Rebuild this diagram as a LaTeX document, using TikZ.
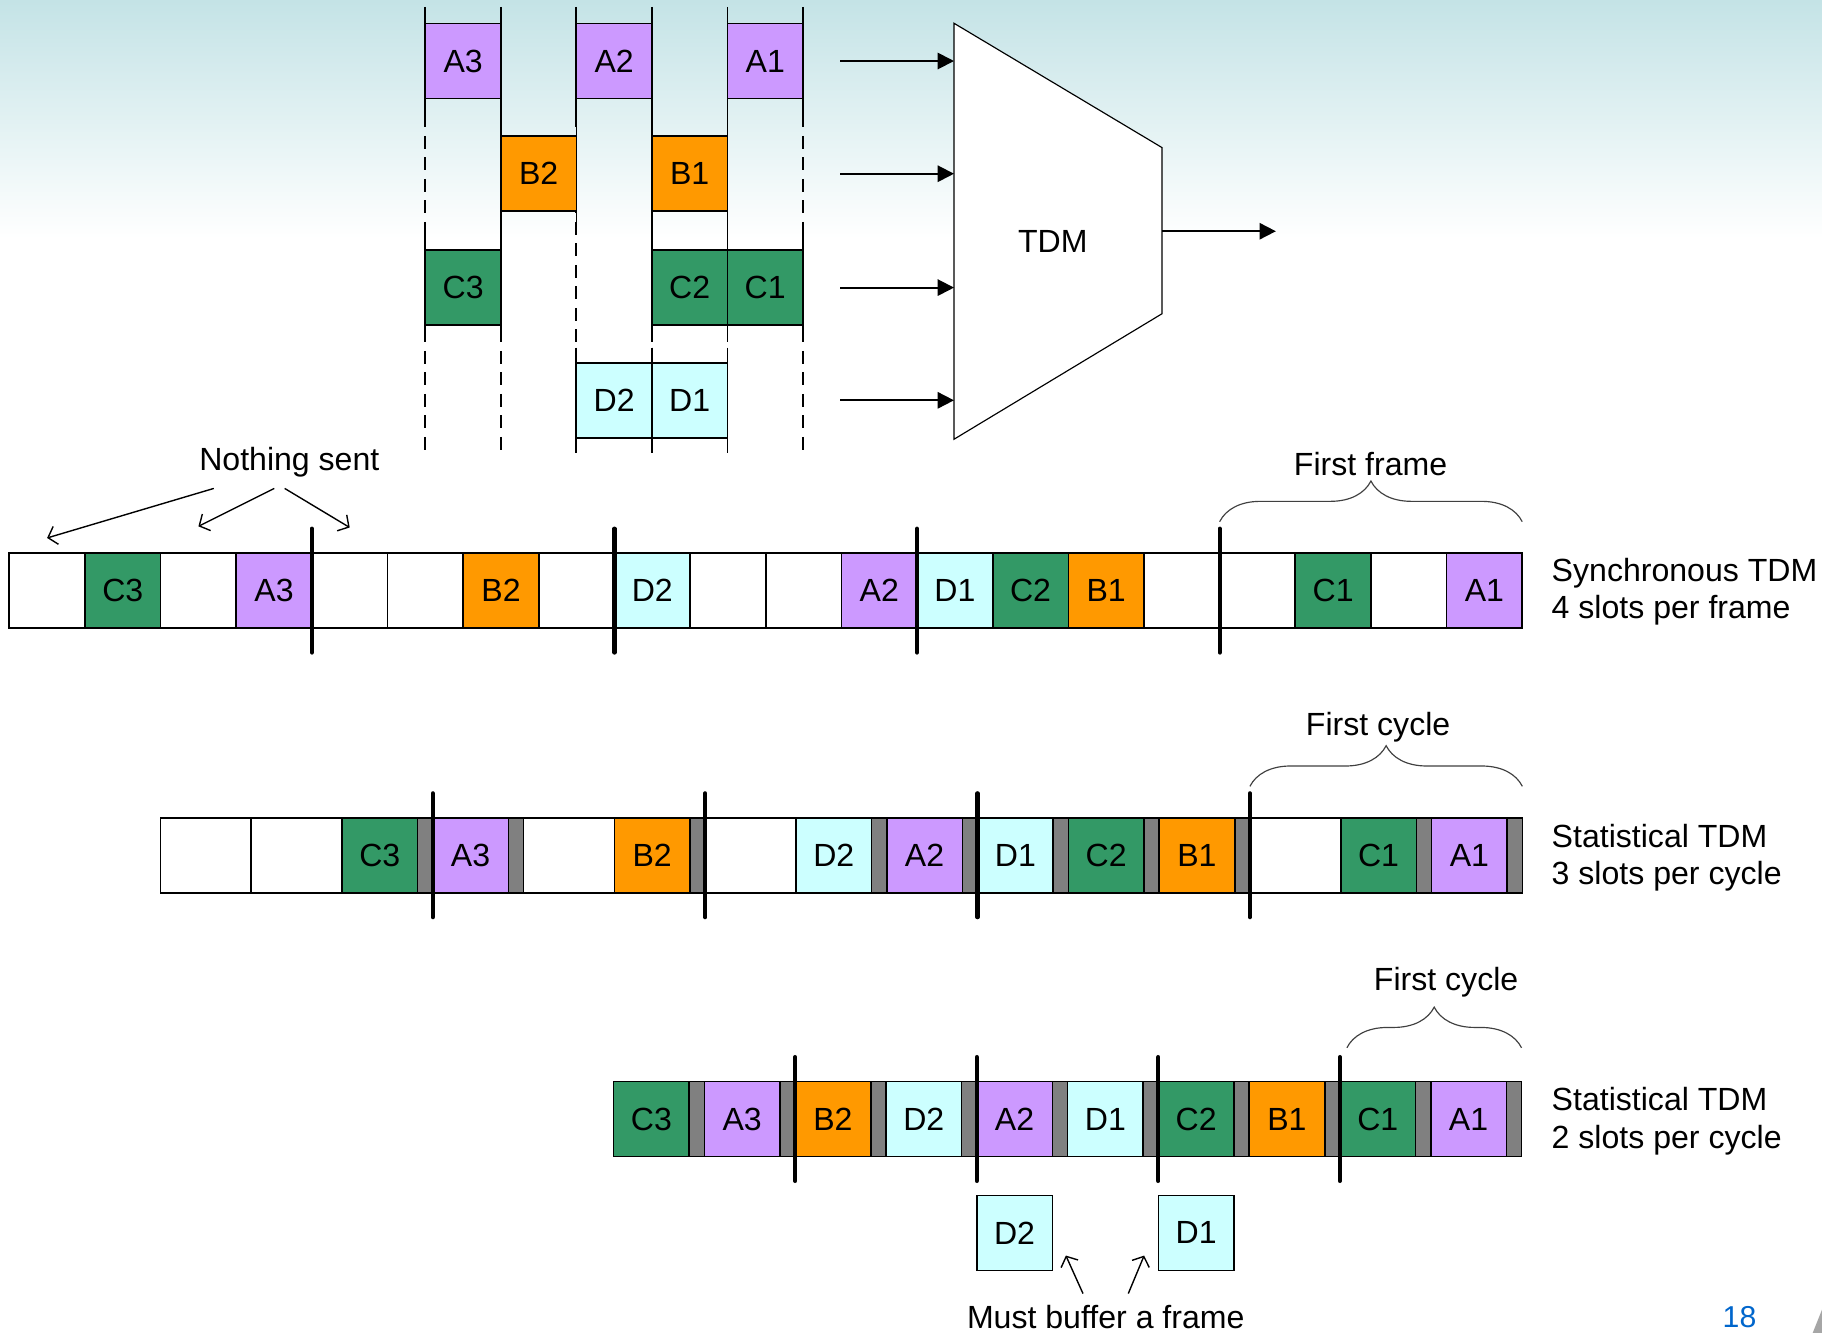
\documentclass[tikz,border=0pt]{standalone}
\usepackage{fontspec}
\setmainfont{Liberation Sans}
\usepackage{tikz}
\usepackage{xcolor}
\usetikzlibrary{arrows.meta,decorations.pathreplacing}

\definecolor{packetA}{HTML}{CC99FF}
\definecolor{packetB}{HTML}{FF9900}
\definecolor{packetC}{HTML}{339966}
\definecolor{packetD}{HTML}{CCFFFF}
\definecolor{headerGrey}{HTML}{808080}
\definecolor{slideTop}{HTML}{C4E3E6}
\definecolor{pageBlue}{HTML}{0066CC}

\tikzstyle{slot} =
  [ rectangle
  , draw
  , line width=0.7pt
  , minimum width=32.55pt
  , minimum height=32.3pt
  , inner sep=0pt
  , outer sep=0pt
  , anchor=west
  ]
\tikzstyle{packet_a} = [ slot , fill=packetA ]
\tikzstyle{packet_b} = [ slot , fill=packetB ]
\tikzstyle{packet_c} = [ slot , fill=packetC ]
\tikzstyle{packet_d} = [ slot , fill=packetD ]
\tikzstyle{idle} = [ slot , fill=white ]
\tikzstyle{idle_wide} =
  [ slot
  , fill=white
  , minimum width=39.07pt
  ]
\tikzstyle{header} =
  [ slot
  , fill=headerGrey
  , minimum width=6.52pt
  ]
\tikzstyle{mux} =
  [ draw
  , fill=white
  , line width=0.5pt
  ]
\tikzstyle{frame_mark} = [ line width=1.8pt , line cap=round ]
\tikzstyle{guide} = [ line width=0.75pt , dash pattern=on 5.5pt off 3.75pt ]
\tikzstyle{side} = [ line width=0.75pt ]
\tikzstyle{feed} = [ line width=0.8pt , -{Triangle[length=7pt,width=7pt]} ]
\tikzstyle{note_arrow} = [ line width=0.6pt , -{Straight Barb[length=3.5pt,width=8pt]} ]
\tikzstyle{curly} =
  [ draw=black!75
  , line width=0.5pt
  , decorate
  , decoration={brace,amplitude=17.5pt}
  ]
\tikzstyle{caption} = [ inner sep=1pt , anchor=base ]
\tikzstyle{row_label} = [ inner sep=0pt , anchor=base west ]

\def\packetsides#1{%
  \draw[side] ([yshift=6.5pt]#1.north west) -- ([yshift=-6.5pt]#1.south west)
              ([yshift=6.5pt]#1.north east) -- ([yshift=-6.5pt]#1.south east);}

\begin{document}
\begin{tikzpicture}[x=0.5pt,y=-0.5pt,font=\fontsize{13.8}{16}\selectfont]
    \useasboundingbox (0,0) rectangle (1568,1147);

    % slide background
    \fill[white] (0,0) rectangle (1568,1147);
    \shade[top color=slideTop, bottom color=white] (0,0) rectangle (1568,205);

    % Input streams
    \draw[guide] (366,6) -- (366,390) (431,6) -- (431,390) (496,6) -- (496,390)
                 (561,6) -- (561,390) (626,6) -- (626,390) (691,6) -- (691,390);

    \node[packet_a] (in_a3) at (366,52.5)  {A3};
    \node[packet_a] (in_a2) at (496,52.5)  {A2};
    \node[packet_a] (in_a1) at (626,52.5)  {A1};
    \node[packet_b] (in_b2) at (431,149.5) {B2};
    \node[packet_b] (in_b1) at (561,149.5) {B1};
    \node[packet_c] (in_c3) at (366,247.5) {C3};
    \node[packet_c] (in_c2) at (561,247.5) {C2};
    \node[packet_c] (in_c1) at (626,247.5) {C1};
    \node[packet_d] (in_d2) at (496,344.5) {D2};
    \node[packet_d] (in_d1) at (561,344.5) {D1};
    \packetsides{in_a3} \packetsides{in_a2} \packetsides{in_a1}
    \packetsides{in_b2} \packetsides{in_b1}
    \packetsides{in_c3} \packetsides{in_c2} \packetsides{in_c1}
    \packetsides{in_d2} \packetsides{in_d1}

    % Multiplexer
    \coordinate (mux_nw) at (821,20);
    \coordinate (mux_ne) at (1000,127);
    \coordinate (mux_se) at (1000,270);
    \coordinate (mux_sw) at (821,378);
    \draw[mux] (mux_nw) -- (mux_ne) -- (mux_se) -- (mux_sw) -- cycle;
    \node[caption] (tdm) at (906,217) {TDM};

    \coordinate (feed_a) at (723,52.5);
    \coordinate (feed_b) at (723,149.5);
    \coordinate (feed_c) at (723,247.5);
    \coordinate (feed_d) at (723,344.5);
    \coordinate (mux_out) at (1098,199);
    \draw[feed] (feed_a) -- (feed_a -| mux_nw);
    \draw[feed] (feed_b) -- (feed_b -| mux_nw);
    \draw[feed] (feed_c) -- (feed_c -| mux_nw);
    \draw[feed] (feed_d) -- (feed_d -| mux_nw);
    \draw[feed] (mux_out -| mux_ne) -- (mux_out);

    % Synchronous TDM, 4 slots per frame
    \node[idle]     (sync_e1)  at (8,508.25)     {};
    \node[packet_c] (sync_c3)  at (sync_e1.east)  {C3};
    \node[idle]     (sync_e2)  at (sync_c3.east)  {};
    \node[packet_a] (sync_a3)  at (sync_e2.east)  {A3};
    \node[idle]     (sync_e3)  at (sync_a3.east)  {};
    \node[idle]     (sync_e4)  at (sync_e3.east)  {};
    \node[packet_b] (sync_b2)  at (sync_e4.east)  {B2};
    \node[idle]     (sync_e5)  at (sync_b2.east)  {};
    \node[packet_d] (sync_d2)  at (sync_e5.east)  {D2};
    \node[idle]     (sync_e6)  at (sync_d2.east)  {};
    \node[idle]     (sync_e7)  at (sync_e6.east)  {};
    \node[packet_a] (sync_a2)  at (sync_e7.east)  {A2};
    \node[packet_d] (sync_d1)  at (sync_a2.east)  {D1};
    \node[packet_c] (sync_c2)  at (sync_d1.east)  {C2};
    \node[packet_b] (sync_b1)  at (sync_c2.east)  {B1};
    \node[idle]     (sync_e8)  at (sync_b1.east)  {};
    \node[idle]     (sync_e9)  at (sync_e8.east)  {};
    \node[packet_c] (sync_c1)  at (sync_e9.east)  {C1};
    \node[idle]     (sync_e10) at (sync_c1.east)  {};
    \node[packet_a] (sync_a1)  at (sync_e10.east) {A1};

    \draw[frame_mark] ([yshift=10.5pt]sync_a3.north east) -- ([yshift=-10.5pt]sync_a3.south east);
    \draw[frame_mark] ([yshift=10.5pt]sync_e5.north east) -- ([yshift=-10.5pt]sync_e5.south east);
    \draw[frame_mark] ([yshift=10.5pt]sync_a2.north east) -- ([yshift=-10.5pt]sync_a2.south east);
    \draw[frame_mark] ([yshift=10.5pt]sync_e8.north east) -- ([yshift=-10.5pt]sync_e8.south east);

    \node[caption] (nothing) at (249,405) {Nothing sent};
    \draw[note_arrow] ([xshift=-32.5pt,yshift=-3.6pt]nothing.south) -- ([yshift=6.5pt]sync_e1.north);
    \draw[note_arrow] ([xshift=-6.5pt,yshift=-3.6pt]nothing.south) -- ([yshift=11.5pt]sync_e2.north);
    \draw[note_arrow] ([xshift=-2pt,yshift=-3.6pt]nothing.south) -- ([yshift=11pt]sync_e3.north);

    \draw[curly] ([yshift=13.5pt]sync_e9.north west) -- ([yshift=13.5pt]sync_a1.north east);
    \node[caption] (first_frame) at (1179.5,409) {First frame};

    \node[row_label] (sync_name)  at (1335,500) {Synchronous TDM};
    \node[row_label] (sync_slots) at (1335,532) {4 slots per frame};

    % Statistical TDM, 3 slots per cycle
    \node[idle_wide] (stat3_e1)  at (138,736)       {};
    \node[idle_wide] (stat3_e2)  at (stat3_e1.east)  {};
    \node[packet_c]  (stat3_c3)  at (stat3_e2.east)  {C3};
    \node[header]    (stat3_c3h) at (stat3_c3.east)  {};
    \node[packet_a]  (stat3_a3)  at (stat3_c3h.east) {A3};
    \node[header]    (stat3_a3h) at (stat3_a3.east)  {};
    \node[idle_wide] (stat3_e3)  at (stat3_a3h.east) {};
    \node[packet_b]  (stat3_b2)  at (stat3_e3.east)  {B2};
    \node[header]    (stat3_b2h) at (stat3_b2.east)  {};
    \node[idle_wide] (stat3_e4)  at (stat3_b2h.east) {};
    \node[packet_d]  (stat3_d2)  at (stat3_e4.east)  {D2};
    \node[header]    (stat3_d2h) at (stat3_d2.east)  {};
    \node[packet_a]  (stat3_a2)  at (stat3_d2h.east) {A2};
    \node[header]    (stat3_a2h) at (stat3_a2.east)  {};
    \node[packet_d]  (stat3_d1)  at (stat3_a2h.east) {D1};
    \node[header]    (stat3_d1h) at (stat3_d1.east)  {};
    \node[packet_c]  (stat3_c2)  at (stat3_d1h.east) {C2};
    \node[header]    (stat3_c2h) at (stat3_c2.east)  {};
    \node[packet_b]  (stat3_b1)  at (stat3_c2h.east) {B1};
    \node[header]    (stat3_b1h) at (stat3_b1.east)  {};
    \node[idle_wide] (stat3_e5)  at (stat3_b1h.east) {};
    \node[packet_c]  (stat3_c1)  at (stat3_e5.east)  {C1};
    \node[header]    (stat3_c1h) at (stat3_c1.east)  {};
    \node[packet_a]  (stat3_a1)  at (stat3_c1h.east) {A1};
    \node[header]    (stat3_a1h) at (stat3_a1.east)  {};

    \draw[frame_mark] ([yshift=10.5pt]stat3_c3h.north east) -- ([yshift=-10.5pt]stat3_c3h.south east);
    \draw[frame_mark] ([yshift=10.5pt]stat3_b2h.north east) -- ([yshift=-10.5pt]stat3_b2h.south east);
    \draw[frame_mark] ([yshift=10.5pt]stat3_a2h.north east) -- ([yshift=-10.5pt]stat3_a2h.south east);
    \draw[frame_mark] ([yshift=10.5pt]stat3_b1h.north east) -- ([yshift=-10.5pt]stat3_b1h.south east);

    \draw[curly] ([yshift=13.5pt]stat3_e5.north west) -- ([yshift=13.5pt]stat3_a1h.north east);
    \node[caption] (first_cycle_3) at (1186,633) {First cycle};

    \node[row_label] (stat3_name)  at (1335,729) {Statistical TDM};
    \node[row_label] (stat3_slots) at (1335,761) {3 slots per cycle};

    % Statistical TDM, 2 slots per cycle
    \node[packet_c] (stat2_c3)  at (528,963)       {C3};
    \node[header]   (stat2_c3h) at (stat2_c3.east)  {};
    \node[packet_a] (stat2_a3)  at (stat2_c3h.east) {A3};
    \node[header]   (stat2_a3h) at (stat2_a3.east)  {};
    \node[packet_b] (stat2_b2)  at (stat2_a3h.east) {B2};
    \node[header]   (stat2_b2h) at (stat2_b2.east)  {};
    \node[packet_d] (stat2_d2)  at (stat2_b2h.east) {D2};
    \node[header]   (stat2_d2h) at (stat2_d2.east)  {};
    \node[packet_a] (stat2_a2)  at (stat2_d2h.east) {A2};
    \node[header]   (stat2_a2h) at (stat2_a2.east)  {};
    \node[packet_d] (stat2_d1)  at (stat2_a2h.east) {D1};
    \node[header]   (stat2_d1h) at (stat2_d1.east)  {};
    \node[packet_c] (stat2_c2)  at (stat2_d1h.east) {C2};
    \node[header]   (stat2_c2h) at (stat2_c2.east)  {};
    \node[packet_b] (stat2_b1)  at (stat2_c2h.east) {B1};
    \node[header]   (stat2_b1h) at (stat2_b1.east)  {};
    \node[packet_c] (stat2_c1)  at (stat2_b1h.east) {C1};
    \node[header]   (stat2_c1h) at (stat2_c1.east)  {};
    \node[packet_a] (stat2_a1)  at (stat2_c1h.east) {A1};
    \node[header]   (stat2_a1h) at (stat2_a1.east)  {};

    \draw[frame_mark] ([yshift=10.5pt]stat2_a3h.north east) -- ([yshift=-10.5pt]stat2_a3h.south east);
    \draw[frame_mark] ([yshift=10.5pt]stat2_d2h.north east) -- ([yshift=-10.5pt]stat2_d2h.south east);
    \draw[frame_mark] ([yshift=10.5pt]stat2_d1h.north east) -- ([yshift=-10.5pt]stat2_d1h.south east);
    \draw[frame_mark] ([yshift=10.5pt]stat2_b1h.north east) -- ([yshift=-10.5pt]stat2_b1h.south east);

    \draw[curly] ([xshift=3pt,yshift=14.5pt]stat2_c1.north west) -- ([yshift=14.5pt]stat2_a1h.north east);
    \node[caption] (first_cycle_2) at (1244.5,852) {First cycle};

    \node[row_label] (stat2_name)  at (1335,956) {Statistical TDM};
    \node[row_label] (stat2_slots) at (1335,988) {2 slots per cycle};

    % D packets held back one frame
    \node[packet_d, anchor=north west] (buf_d2) at ([yshift=-16.7pt]stat2_a2.south west) {D2};
    \node[packet_d, anchor=north west] (buf_d1) at ([yshift=-16.7pt]stat2_c2.south west) {D1};
    \node[caption] (must_buffer) at (951.6,1143) {Must buffer a frame};
    \draw[note_arrow] ([xshift=-9.8pt,yshift=3.7pt]must_buffer.north) -- ([xshift=5.8pt,yshift=6.4pt]buf_d2.south east);
    \draw[note_arrow] ([xshift=9.7pt,yshift=3.7pt]must_buffer.north) -- ([xshift=-6.1pt,yshift=6.4pt]buf_d1.south west);

    % slide number
    \node[caption, text=pageBlue, font=\fontsize{13}{15}\selectfont] (page_no) at (1497,1142) {18};
    \fill[black!35] (1560,1147) -- (1568,1127) -- (1568,1147) -- cycle;
\end{tikzpicture}
\end{document}
